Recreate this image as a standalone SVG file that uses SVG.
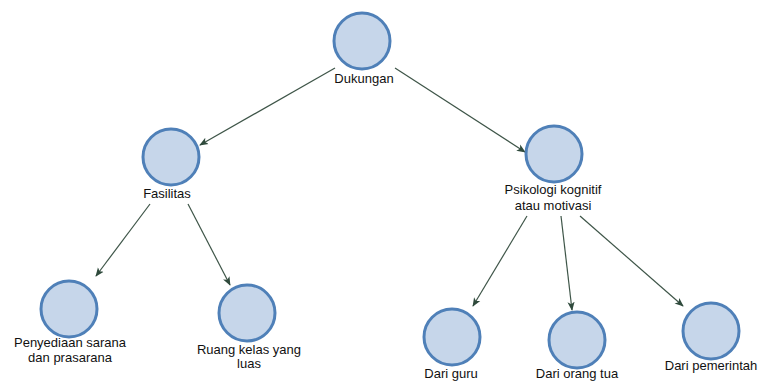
<svg xmlns="http://www.w3.org/2000/svg" width="759" height="381" viewBox="0 0 759 381">
<style>
.n{fill:#c6d6ea;stroke:#4f80b8;stroke-width:3}
.t{font-family:"Liberation Sans",Arial,sans-serif;font-size:13px;fill:#111;text-anchor:middle}
.c{stroke:#3e5548;stroke-width:1.2;fill:none;marker-end:url(#ah)}
</style>
<defs>
<marker id="ah" viewBox="0 0 10 10" refX="9" refY="5" markerWidth="9" markerHeight="9" markerUnits="userSpaceOnUse" orient="auto">
<path d="M0,1 L10,5 L0,9 L2.5,5 Z" fill="#2f4a3c"/>
</marker>
</defs>
<rect width="759" height="381" fill="#fff"/>
<g id="connectors">
<line class="c" x1="335" y1="68" x2="200" y2="145"/>
<line class="c" x1="395" y1="68" x2="525" y2="152"/>
<line class="c" x1="150" y1="204" x2="96" y2="276"/>
<line class="c" x1="188" y1="204" x2="230" y2="285"/>
<line class="c" x1="527" y1="216" x2="473" y2="306"/>
<line class="c" x1="561" y1="216" x2="572" y2="310"/>
<line class="c" x1="580" y1="216" x2="683" y2="306"/>
</g>
<g id="dukungan"><circle class="n" cx="362" cy="41" r="28"/><text class="t" x="364" y="83">Dukungan</text></g>
<g id="fasilitas"><circle class="n" cx="171" cy="157" r="28"/><text class="t" x="167" y="198">Fasilitas</text></g>
<g id="psikologi"><circle class="n" cx="554" cy="154" r="28"/><text class="t" x="553" y="194">Psikologi kognitif</text><text class="t" x="553" y="210">atau motivasi</text></g>
<g id="penyediaan"><circle class="n" cx="69" cy="309" r="28"/><text class="t" x="70" y="347">Penyediaan sarana</text><text class="t" x="70" y="362">dan prasarana</text></g>
<g id="ruang"><circle class="n" cx="247" cy="313" r="28"/><text class="t" x="249" y="354">Ruang kelas yang</text><text class="t" x="249" y="368">luas</text></g>
<g id="guru"><circle class="n" cx="452" cy="337" r="28"/><text class="t" x="451" y="378">Dari guru</text></g>
<g id="orangtua"><circle class="n" cx="577" cy="340" r="28"/><text class="t" x="577" y="377.5">Dari orang tua</text></g>
<g id="pemerintah"><circle class="n" cx="711" cy="331" r="28"/><text class="t" x="711" y="370">Dari pemerintah</text></g>
</svg>
